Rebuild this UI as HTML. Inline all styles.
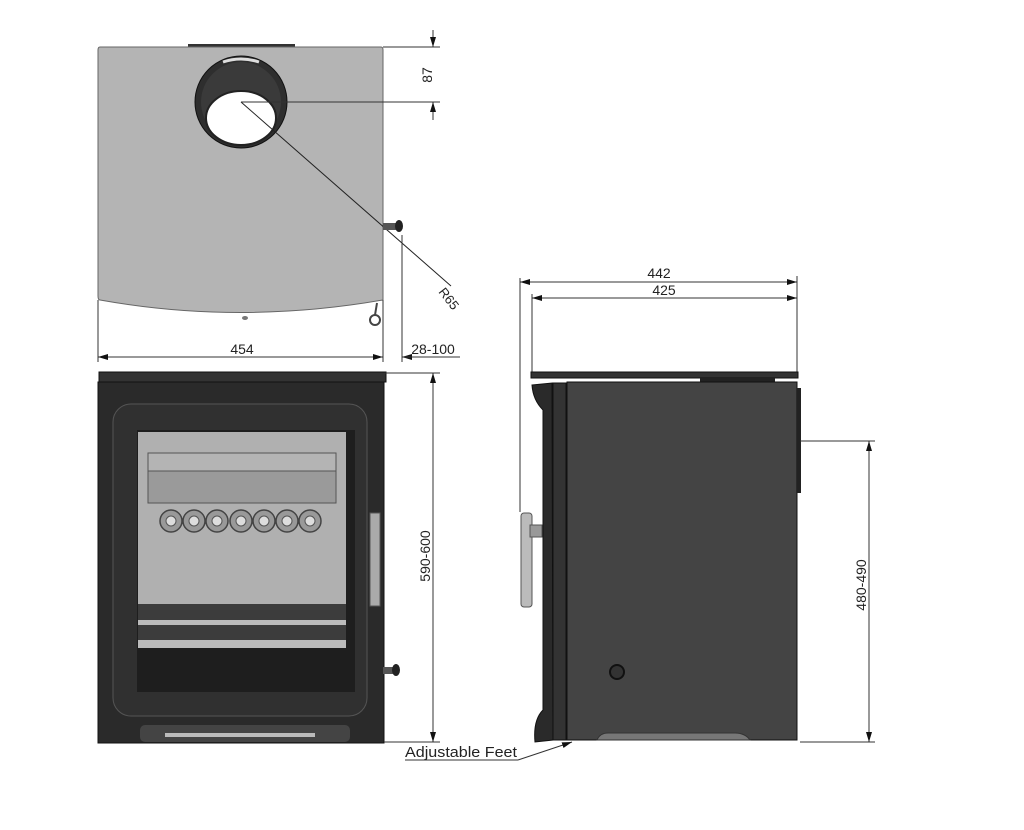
<!DOCTYPE html>
<html><head><meta charset="utf-8"><style>
html,body{margin:0;padding:0;background:#fff;}
svg{display:block;}
text{font-family:"Liberation Sans",sans-serif;fill:#222;}
</style></head><body>
<svg width="1024" height="830" viewBox="0 0 1024 830" xmlns="http://www.w3.org/2000/svg">
<defs>
<marker id="a" viewBox="0 0 10 6" refX="10" refY="3" markerWidth="10" markerHeight="6" orient="auto-start-reverse" markerUnits="userSpaceOnUse"><path d="M0,0 L10,3 L0,6 z" fill="#111"/></marker>
</defs>
<!-- TOP VIEW -->
<rect x="188" y="44" width="107" height="4" fill="#333"/>
<path d="M100,47 L381,47 Q383,47 383,50 L383,300 Q240,325 100,300 Q98,300 98,296 L98,50 Q98,47 100,47 z" fill="#b4b4b4" stroke="#666" stroke-width="1"/>
<circle cx="241" cy="102" r="46" fill="#2e2e2e" stroke="#111"/>
<circle cx="241" cy="102" r="40" fill="#3a3a3a"/>
<ellipse cx="241" cy="118" rx="35" ry="27" fill="#fff" stroke="#222" stroke-width="2"/>
<path d="M223,62 Q241,56 259,62" stroke="#ddd" stroke-width="3" fill="none"/>
<line x1="241" y1="102" x2="451" y2="286" stroke="#222" stroke-width="1"/>
<text x="438" y="292" font-size="13" transform="rotate(52 438 292)">R65</text>
<rect x="383" y="223" width="14" height="7" fill="#555"/>
<ellipse cx="399" cy="226" rx="4" ry="6" fill="#222"/>
<circle cx="375" cy="320" r="5" fill="none" stroke="#444" stroke-width="2"/>
<line x1="377" y1="303" x2="375" y2="315" stroke="#444" stroke-width="2"/>
<ellipse cx="245" cy="318" rx="3" ry="2" fill="#777"/>
<!-- 87 dim -->
<line x1="383" y1="47" x2="440" y2="47" stroke="#333"/>
<line x1="241" y1="102" x2="440" y2="102" stroke="#333"/>
<line x1="433" y1="30" x2="433" y2="47" stroke="#333" marker-end="url(#a)"/>
<line x1="433" y1="120" x2="433" y2="102" stroke="#333" marker-end="url(#a)"/>
<text x="432" y="75" font-size="14" text-anchor="middle" transform="rotate(-90 432 75)">87</text>
<!-- 454 dim -->
<line x1="98" y1="300" x2="98" y2="362" stroke="#333"/>
<line x1="383" y1="300" x2="383" y2="362" stroke="#333"/>
<line x1="402" y1="235" x2="402" y2="362" stroke="#333"/>
<line x1="98" y1="357" x2="383" y2="357" stroke="#333" marker-start="url(#a)" marker-end="url(#a)"/>
<text x="242" y="354" font-size="14" text-anchor="middle">454</text>
<line x1="418" y1="357" x2="402" y2="357" stroke="#333" marker-end="url(#a)"/>
<line x1="405" y1="357" x2="460" y2="357" stroke="#333"/>
<text x="433" y="354" font-size="14" text-anchor="middle">28-100</text>
<!-- FRONT VIEW -->
<rect x="99" y="372" width="287" height="10" fill="#333" stroke="#111"/>
<rect x="98" y="382" width="286" height="361" fill="#2a2a2a" stroke="#111"/>
<rect x="113" y="404" width="254" height="312" rx="18" fill="#303030" stroke="#555"/>
<rect x="137" y="430" width="218" height="262" fill="#1e1e1e"/>
<rect x="138" y="432" width="208" height="180" fill="#b0b0b0"/>
<rect x="148" y="453" width="188" height="50" fill="#9a9a9a" stroke="#555"/>
<rect x="148" y="453" width="188" height="18" fill="#b4b4b4" stroke="#555"/>
<g fill="#999" stroke="#444" stroke-width="1.5">
<circle cx="171" cy="521" r="11"/><circle cx="194" cy="521" r="11"/><circle cx="217" cy="521" r="11"/><circle cx="241" cy="521" r="11"/><circle cx="264" cy="521" r="11"/><circle cx="287" cy="521" r="11"/><circle cx="310" cy="521" r="11"/>
</g>
<g fill="#ddd" stroke="#555"><circle cx="171" cy="521" r="5"/><circle cx="194" cy="521" r="5"/><circle cx="217" cy="521" r="5"/><circle cx="241" cy="521" r="5"/><circle cx="264" cy="521" r="5"/><circle cx="287" cy="521" r="5"/><circle cx="310" cy="521" r="5"/></g>
<rect x="138" y="604" width="208" height="16" fill="#3c3c3c"/>
<rect x="138" y="620" width="208" height="5" fill="#bbb"/>
<rect x="138" y="625" width="208" height="15" fill="#3c3c3c"/>
<rect x="138" y="640" width="208" height="8" fill="#bbb"/>
<rect x="370" y="513" width="10" height="93" fill="#aaa" stroke="#555"/>
<rect x="383" y="667" width="10" height="7" fill="#555"/><ellipse cx="396" cy="670" rx="4" ry="6" fill="#222"/>
<rect x="140" y="725" width="210" height="17" rx="5" fill="#444"/>
<rect x="165" y="733" width="150" height="4" fill="#bbb"/>
<!-- 590-600 dim -->
<line x1="384" y1="373" x2="440" y2="373" stroke="#333"/>
<line x1="384" y1="742" x2="440" y2="742" stroke="#333"/>
<line x1="433" y1="373" x2="433" y2="742" stroke="#333" marker-start="url(#a)" marker-end="url(#a)"/>
<text x="430" y="556" font-size="14" text-anchor="middle" transform="rotate(-90 430 556)">590-600</text>
<!-- SIDE VIEW -->
<line x1="520" y1="278" x2="520" y2="512" stroke="#333"/>
<line x1="532" y1="294" x2="532" y2="372" stroke="#333"/>
<line x1="797" y1="276" x2="797" y2="372" stroke="#333"/>
<line x1="520" y1="282" x2="797" y2="282" stroke="#333" marker-start="url(#a)" marker-end="url(#a)"/>
<line x1="532" y1="298" x2="797" y2="298" stroke="#333" marker-start="url(#a)" marker-end="url(#a)"/>
<text x="659" y="278" font-size="14" text-anchor="middle">442</text>
<text x="664" y="295" font-size="14" text-anchor="middle">425</text>
<rect x="531" y="372" width="267" height="6" fill="#333" stroke="#111"/>
<rect x="700" y="378" width="75" height="4" fill="#222"/>
<rect x="567" y="382" width="230" height="358" fill="#444" stroke="#111"/>
<rect x="797" y="388" width="4" height="105" fill="#222"/>
<path d="M532,385 L552,383 L553,740 L535,742 Q533,720 543,710 L543,410 Q533,400 532,385 z" fill="#2a2a2a" stroke="#111"/>
<rect x="553" y="383" width="13" height="357" fill="#333" stroke="#111"/>
<rect x="521" y="513" width="11" height="94" rx="3" fill="#bbb" stroke="#555"/>
<rect x="530" y="525" width="12" height="12" fill="#999" stroke="#555"/>
<circle cx="617" cy="672" r="7" fill="#333" stroke="#111" stroke-width="2"/>
<path d="M597,740 Q600,733 608,733 L735,733 Q745,733 750,740 z" fill="#777" stroke="#333"/>
<!-- 480-490 -->
<line x1="800" y1="441" x2="875" y2="441" stroke="#333"/>
<line x1="800" y1="742" x2="875" y2="742" stroke="#333"/>
<line x1="869" y1="441" x2="869" y2="742" stroke="#333" marker-start="url(#a)" marker-end="url(#a)"/>
<text x="866" y="585" font-size="14" text-anchor="middle" transform="rotate(-90 866 585)">480-490</text>
<!-- Adjustable Feet -->
<text x="405" y="757" font-size="15" textLength="112" lengthAdjust="spacingAndGlyphs">Adjustable Feet</text>
<line x1="405" y1="760" x2="518" y2="760" stroke="#333"/>
<line x1="518" y1="760" x2="572" y2="742" stroke="#333" marker-end="url(#a)"/>
</svg>
</body></html>
